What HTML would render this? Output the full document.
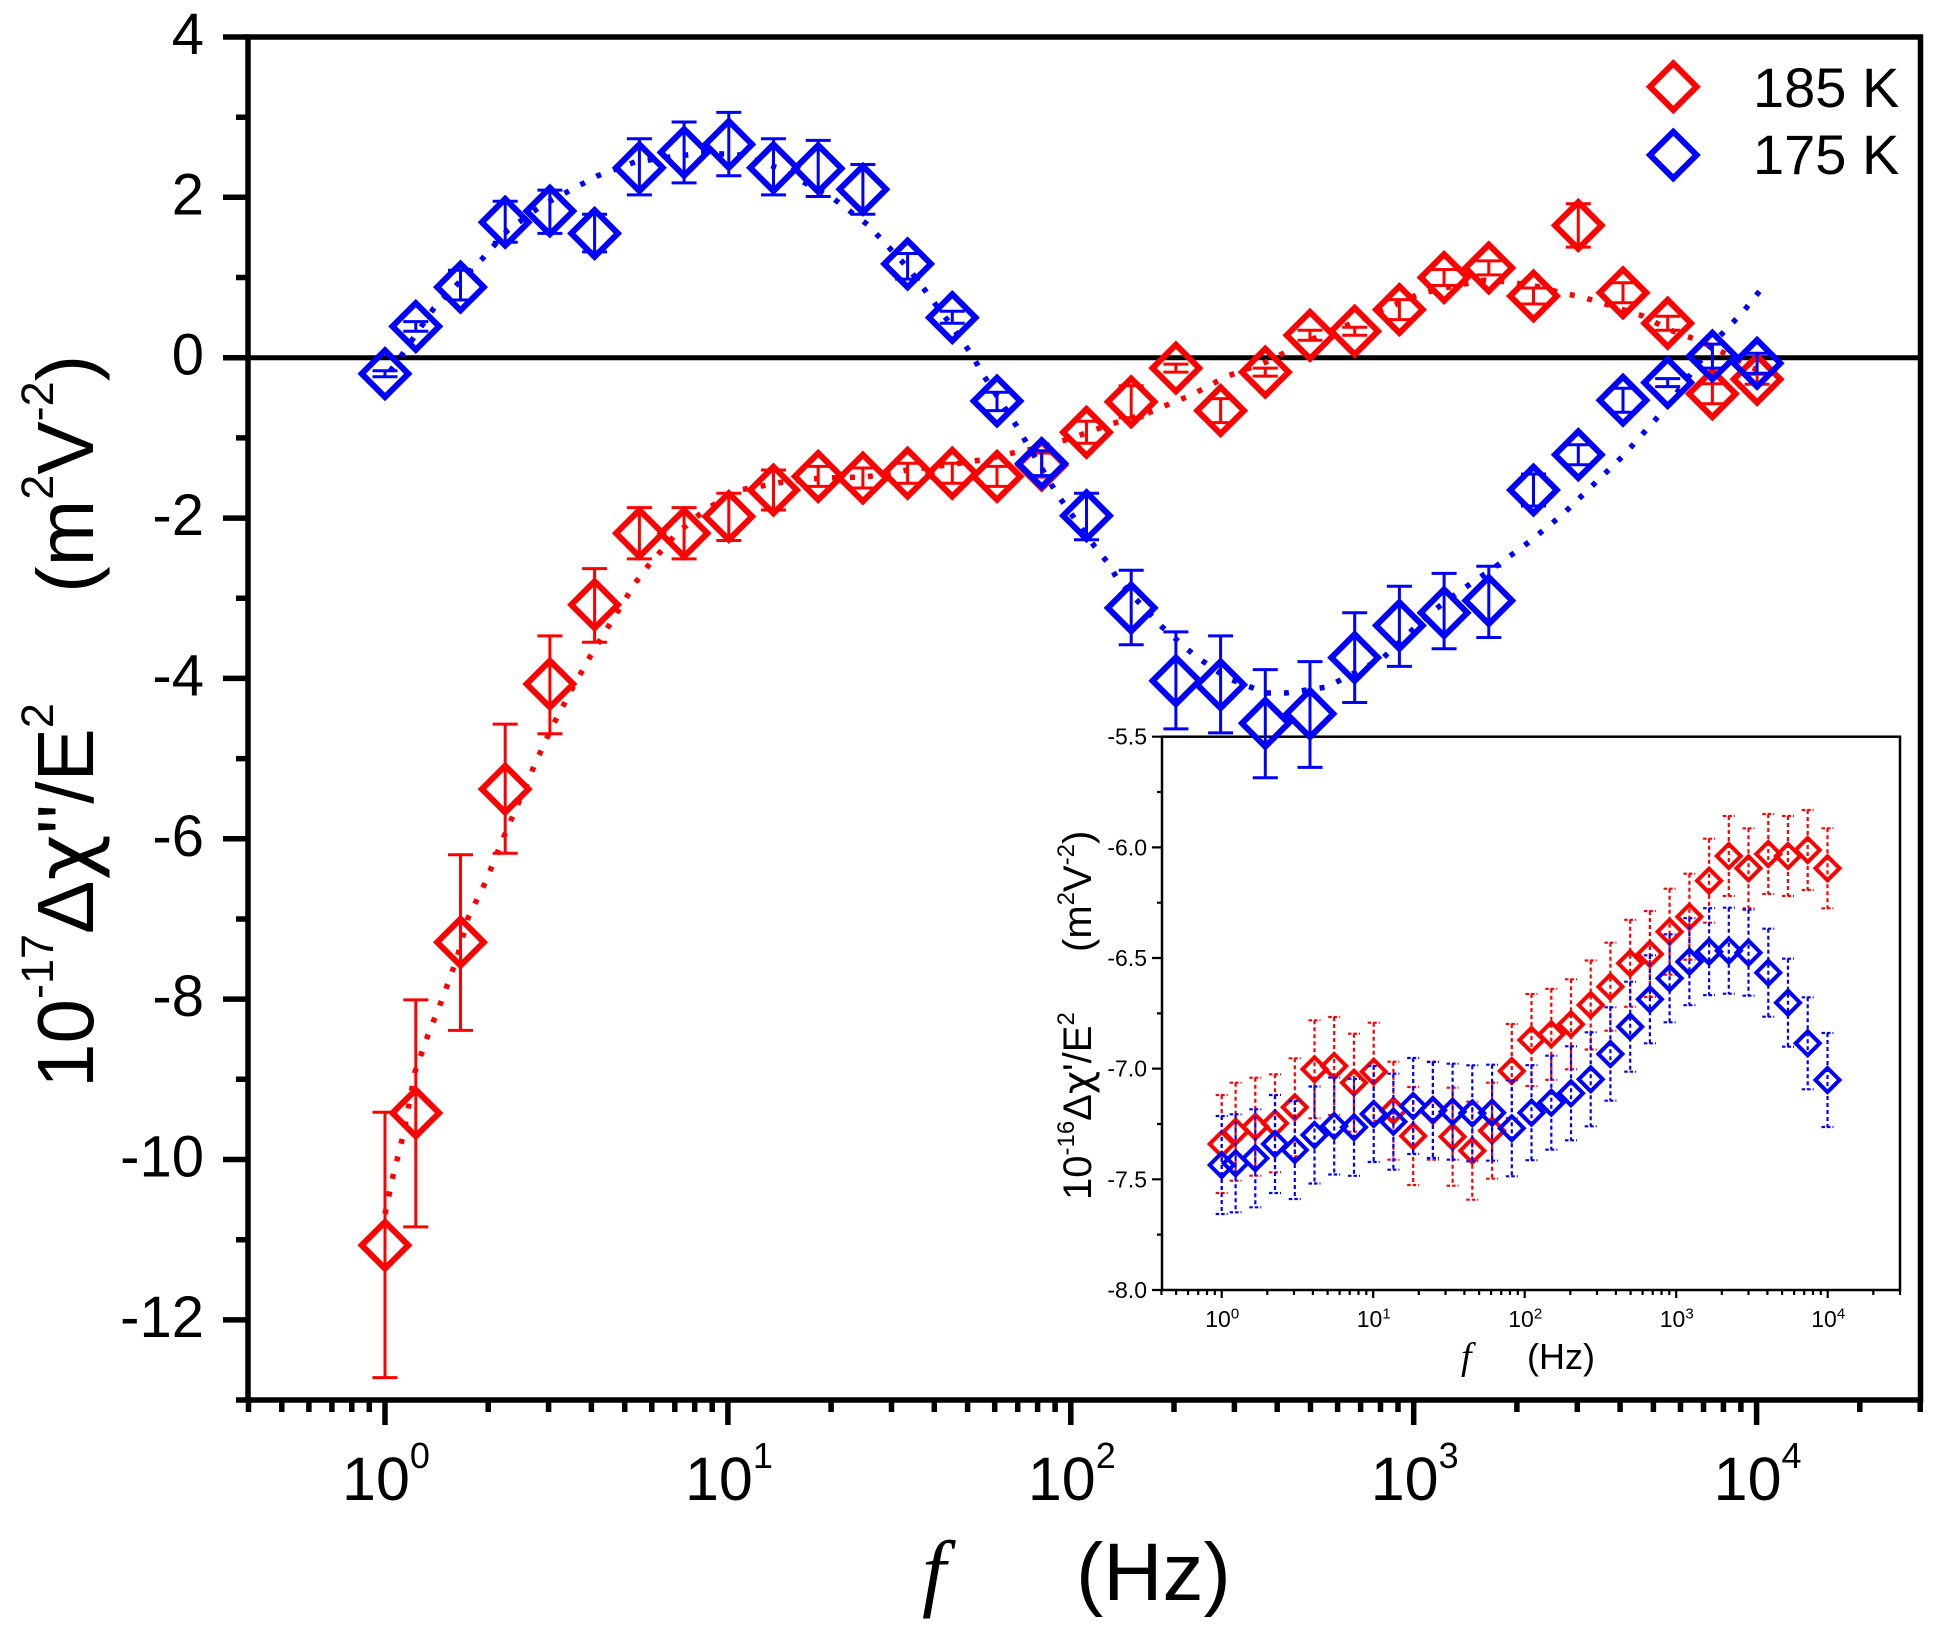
<!DOCTYPE html>
<html>
<head>
<meta charset="utf-8">
<style>
html,body{margin:0;padding:0;background:#fff;}
svg{display:block;}
text{font-family:"Liberation Sans",Arial,sans-serif;fill:#000;}
</style>
</head>
<body>
<svg width="1943" height="1638" viewBox="0 0 1943 1638" xmlns="http://www.w3.org/2000/svg">
<defs>
<path id="D" d="M0,-23.3L23.3,0L0,23.3L-23.3,0Z"/>
<path id="d" d="M0,-12L12,0L0,12L-12,0Z"/>
</defs>
<rect x="0" y="0" width="1943" height="1638" fill="#fff"/>

<!-- ============ INSET ============ -->
<rect x="1162" y="736.7" width="738" height="553.3" fill="none" stroke="#000" stroke-width="2.5"/>
<path stroke="#000" stroke-width="2.2" fill="none" d="M1152,736.7H1162M1152,847.4H1162M1152,958H1162M1152,1068.6H1162M1152,1179.3H1162M1152,1290H1162M1157,792H1162M1157,902.7H1162M1157,1013.4H1162M1157,1124H1162M1157,1234.6H1162"/>
<path stroke="#000" stroke-width="2.2" fill="none" d="M1221.7,1290v8M1373.2,1290v8M1524.7,1290v8M1676.2,1290v8M1827.7,1290v8M1161.4,1290v5M1176.1,1290v5M1188.1,1290v5M1198.2,1290v5M1207,1290v5M1214.8,1290v5M1267.3,1290v5M1294,1290v5M1312.9,1290v5M1327.6,1290v5M1339.6,1290v5M1349.7,1290v5M1358.5,1290v5M1366.3,1290v5M1418.8,1290v5M1445.5,1290v5M1464.4,1290v5M1479.1,1290v5M1491.1,1290v5M1501.2,1290v5M1510,1290v5M1517.8,1290v5M1570.3,1290v5M1597,1290v5M1615.9,1290v5M1630.6,1290v5M1642.6,1290v5M1652.7,1290v5M1661.5,1290v5M1669.3,1290v5M1721.8,1290v5M1748.5,1290v5M1767.4,1290v5M1782.1,1290v5M1794.1,1290v5M1804.2,1290v5M1813,1290v5M1820.8,1290v5M1873.3,1290v5M1900,1290v5"/>
<g font-size="23" text-anchor="end">
<text x="1147" y="744.7">-5.5</text>
<text x="1147" y="855.4">-6.0</text>
<text x="1147" y="966">-6.5</text>
<text x="1147" y="1076.6">-7.0</text>
<text x="1147" y="1187.3">-7.5</text>
<text x="1147" y="1298">-8.0</text>
</g>
<g font-size="23" text-anchor="middle">
<text x="1222.2" y="1327">10<tspan font-size="15" dy="-8.5">0</tspan></text>
<text x="1373.7" y="1327">10<tspan font-size="15" dy="-8.5">1</tspan></text>
<text x="1525.2" y="1327">10<tspan font-size="15" dy="-8.5">2</tspan></text>
<text x="1676.7" y="1327">10<tspan font-size="15" dy="-8.5">3</tspan></text>
<text x="1828.2" y="1327">10<tspan font-size="15" dy="-8.5">4</tspan></text>
</g>
<text x="1461" y="1369" style="font-family:'Liberation Serif',serif;font-style:italic;font-size:38px">f</text>
<text x="1527" y="1369" font-size="36">(Hz)</text>
<text transform="translate(1091,1200) rotate(-90)" font-size="40">10<tspan font-size="24" dy="-17">-16</tspan><tspan dy="17">Δ</tspan><tspan style="font-family:'DejaVu Sans',sans-serif">χ</tspan><tspan>'/E</tspan><tspan font-size="24" dy="-17">2</tspan></text>
<text transform="translate(1091,952) rotate(-90)" font-size="40">(m<tspan font-size="24" dy="-17">2</tspan><tspan dy="17">V</tspan><tspan font-size="24" dy="-17">-2</tspan><tspan dy="17">)</tspan></text>

<g fill="none" stroke="#f00" stroke-width="2.2">
<path stroke-dasharray="4 3" d="M1221.7,1095V1193M1235.6,1082.7V1180.7M1255.3,1077.7V1175.7M1275,1074.3V1172.3M1294.8,1058.3V1156.3M1314.5,1020.3V1118.3M1334.2,1017V1115M1354,1033.7V1131.7M1373.7,1022.7V1120.7M1393.4,1061.7V1159.7M1413.2,1087V1185M1432.9,1061.7V1159.7M1452.6,1087.7V1185.7M1472.3,1101.7V1199.7M1492.1,1082.7V1178.7M1511.8,1024V1118M1531.5,994V1086M1551.3,988.8V1079.8M1571,979.3V1069.3M1590.7,960.5V1049.5M1610.4,942.7V1030.7M1630.2,919.8V1006.8M1649.9,911V997M1669.6,888.7V974.7M1689.4,873.7V959.7M1709.1,838.7V922.7M1728.8,816V896M1748.5,828.3V908.3M1768.3,814V894M1788,816V896M1807.7,810V890M1827.5,828.3V908.3"/>
<path stroke-dasharray="3.5 2" d="M1215.7,1095h12M1215.7,1193h12M1229.6,1082.7h12M1229.6,1180.7h12M1249.3,1077.7h12M1249.3,1175.7h12M1269,1074.3h12M1269,1172.3h12M1288.8,1058.3h12M1288.8,1156.3h12M1308.5,1020.3h12M1308.5,1118.3h12M1328.2,1017h12M1328.2,1115h12M1348,1033.7h12M1348,1131.7h12M1367.7,1022.7h12M1367.7,1120.7h12M1387.4,1061.7h12M1387.4,1159.7h12M1407.2,1087h12M1407.2,1185h12M1426.9,1061.7h12M1426.9,1159.7h12M1446.6,1087.7h12M1446.6,1185.7h12M1466.3,1101.7h12M1466.3,1199.7h12M1486.1,1082.7h12M1486.1,1178.7h12M1505.8,1024h12M1505.8,1118h12M1525.5,994h12M1525.5,1086h12M1545.3,988.8h12M1545.3,1079.8h12M1565,979.3h12M1565,1069.3h12M1584.7,960.5h12M1584.7,1049.5h12M1604.4,942.7h12M1604.4,1030.7h12M1624.2,919.8h12M1624.2,1006.8h12M1643.9,911h12M1643.9,997h12M1663.6,888.7h12M1663.6,974.7h12M1683.4,873.7h12M1683.4,959.7h12M1703.1,838.7h12M1703.1,922.7h12M1722.8,816h12M1722.8,896h12M1742.5,828.3h12M1742.5,908.3h12M1762.3,814h12M1762.3,894h12M1782,816h12M1782,896h12M1801.7,810h12M1801.7,890h12M1821.5,828.3h12M1821.5,908.3h12"/>
</g>
<g fill="none" stroke="#f00" stroke-width="4">
<use href="#d" x="1221.7" y="1144"/><use href="#d" x="1235.6" y="1131.7"/><use href="#d" x="1255.3" y="1126.7"/><use href="#d" x="1275" y="1123.3"/><use href="#d" x="1294.8" y="1107.3"/><use href="#d" x="1314.5" y="1069.3"/><use href="#d" x="1334.2" y="1066"/><use href="#d" x="1354" y="1082.7"/><use href="#d" x="1373.7" y="1071.7"/><use href="#d" x="1393.4" y="1110.7"/><use href="#d" x="1413.2" y="1136"/><use href="#d" x="1432.9" y="1110.7"/><use href="#d" x="1452.6" y="1136.7"/><use href="#d" x="1472.3" y="1150.7"/><use href="#d" x="1492.1" y="1130.7"/><use href="#d" x="1511.8" y="1071"/><use href="#d" x="1531.5" y="1040"/><use href="#d" x="1551.3" y="1034.3"/><use href="#d" x="1571" y="1024.3"/><use href="#d" x="1590.7" y="1005"/><use href="#d" x="1610.4" y="986.7"/><use href="#d" x="1630.2" y="963.3"/><use href="#d" x="1649.9" y="954"/><use href="#d" x="1669.6" y="931.7"/><use href="#d" x="1689.4" y="916.7"/><use href="#d" x="1709.1" y="880.7"/><use href="#d" x="1728.8" y="856"/><use href="#d" x="1748.5" y="868.3"/><use href="#d" x="1768.3" y="854"/><use href="#d" x="1788" y="856"/><use href="#d" x="1807.7" y="850"/><use href="#d" x="1827.5" y="868.3"/>
</g>
<g fill="none" stroke="#00f" stroke-width="2.2">
<path stroke-dasharray="4 3" d="M1221.7,1116V1214M1235.6,1114.3V1212.3M1255.3,1109.3V1207.3M1275,1095V1193M1294.8,1101V1199M1314.5,1086.5V1183.5M1334.2,1077.5V1174.5M1354,1078.8V1175.8M1373.7,1066V1162M1393.4,1073.7V1169.7M1413.2,1058V1154M1432.9,1062V1158M1452.6,1063.7V1159.7M1472.3,1065.3V1161.3M1492.1,1064.7V1160.7M1511.8,1080.3V1176.3M1531.5,1065.2V1160.2M1551.3,1055.7V1149.7M1571,1046.3V1140.3M1590.7,1032.3V1126.3M1610.4,1007.3V1100.7M1630.2,981.7V1071.7M1649.9,955.3V1043.3M1669.6,934.3V1022.3M1689.4,918.2V1005.2M1709.1,908.2V995.2M1728.8,907.7V993.7M1748.5,909.7V995.7M1768.3,928.7V1016.7M1788,958.7V1046.7M1807.7,997.3V1089.3M1827.5,1033V1127"/>
<path stroke-dasharray="3.5 2" d="M1215.7,1116h12M1215.7,1214h12M1229.6,1114.3h12M1229.6,1212.3h12M1249.3,1109.3h12M1249.3,1207.3h12M1269,1095h12M1269,1193h12M1288.8,1101h12M1288.8,1199h12M1308.5,1086.5h12M1308.5,1183.5h12M1328.2,1077.5h12M1328.2,1174.5h12M1348,1078.8h12M1348,1175.8h12M1367.7,1066h12M1367.7,1162h12M1387.4,1073.7h12M1387.4,1169.7h12M1407.2,1058h12M1407.2,1154h12M1426.9,1062h12M1426.9,1158h12M1446.6,1063.7h12M1446.6,1159.7h12M1466.3,1065.3h12M1466.3,1161.3h12M1486.1,1064.7h12M1486.1,1160.7h12M1505.8,1080.3h12M1505.8,1176.3h12M1525.5,1065.2h12M1525.5,1160.2h12M1545.3,1055.7h12M1545.3,1149.7h12M1565,1046.3h12M1565,1140.3h12M1584.7,1032.3h12M1584.7,1126.3h12M1604.4,1007.3h12M1604.4,1100.7h12M1624.2,981.7h12M1624.2,1071.7h12M1643.9,955.3h12M1643.9,1043.3h12M1663.6,934.3h12M1663.6,1022.3h12M1683.4,918.2h12M1683.4,1005.2h12M1703.1,908.2h12M1703.1,995.2h12M1722.8,907.7h12M1722.8,993.7h12M1742.5,909.7h12M1742.5,995.7h12M1762.3,928.7h12M1762.3,1016.7h12M1782,958.7h12M1782,1046.7h12M1801.7,997.3h12M1801.7,1089.3h12M1821.5,1033h12M1821.5,1127h12"/>
</g>
<g fill="none" stroke="#00f" stroke-width="4">
<use href="#d" x="1221.7" y="1165"/><use href="#d" x="1235.6" y="1163.3"/><use href="#d" x="1255.3" y="1158.3"/><use href="#d" x="1275" y="1144"/><use href="#d" x="1294.8" y="1150"/><use href="#d" x="1314.5" y="1135"/><use href="#d" x="1334.2" y="1126"/><use href="#d" x="1354" y="1127.3"/><use href="#d" x="1373.7" y="1114"/><use href="#d" x="1393.4" y="1121.7"/><use href="#d" x="1413.2" y="1106"/><use href="#d" x="1432.9" y="1110"/><use href="#d" x="1452.6" y="1111.7"/><use href="#d" x="1472.3" y="1113.3"/><use href="#d" x="1492.1" y="1112.7"/><use href="#d" x="1511.8" y="1128.3"/><use href="#d" x="1531.5" y="1112.7"/><use href="#d" x="1551.3" y="1102.7"/><use href="#d" x="1571" y="1093.3"/><use href="#d" x="1590.7" y="1079.3"/><use href="#d" x="1610.4" y="1054"/><use href="#d" x="1630.2" y="1026.7"/><use href="#d" x="1649.9" y="999.3"/><use href="#d" x="1669.6" y="978.3"/><use href="#d" x="1689.4" y="961.7"/><use href="#d" x="1709.1" y="951.7"/><use href="#d" x="1728.8" y="950.7"/><use href="#d" x="1748.5" y="952.7"/><use href="#d" x="1768.3" y="972.7"/><use href="#d" x="1788" y="1002.7"/><use href="#d" x="1807.7" y="1043.3"/><use href="#d" x="1827.5" y="1080"/>
</g>

<!-- ============ MAIN AXES ============ -->
<rect x="248" y="37" width="1672.5" height="1363" fill="none" stroke="#000" stroke-width="5.5"/>
<path stroke="#000" stroke-width="5" fill="none" d="M248,357.7H1920.5"/>
<path stroke="#000" stroke-width="5.5" fill="none" d="M223,37H248M223,197.3H248M223,357.7H248M223,518.1H248M223,678.4H248M223,838.8H248M223,999.1H248M223,1159.5H248M223,1319.9H248M236,117.2H248M236,277.5H248M236,437.9H248M236,598.2H248M236,758.6H248M236,919H248M236,1079.3H248M236,1239.7H248M236,1400H248"/>
<path stroke="#000" stroke-width="5.5" fill="none" d="M385,1400v25M727.9,1400v25M1070.8,1400v25M1413.7,1400v25M1756.6,1400v25M248.5,1400v12M281.8,1400v12M308.9,1400v12M331.9,1400v12M351.8,1400v12M369.3,1400v12M488.2,1400v12M548.6,1400v12M591.4,1400v12M624.7,1400v12M651.8,1400v12M674.8,1400v12M694.7,1400v12M712.2,1400v12M831.1,1400v12M891.5,1400v12M934.3,1400v12M967.6,1400v12M994.7,1400v12M1017.7,1400v12M1037.6,1400v12M1055.1,1400v12M1174,1400v12M1234.4,1400v12M1277.2,1400v12M1310.5,1400v12M1337.6,1400v12M1360.6,1400v12M1380.5,1400v12M1398,1400v12M1516.9,1400v12M1577.3,1400v12M1620.1,1400v12M1653.4,1400v12M1680.5,1400v12M1703.5,1400v12M1723.4,1400v12M1740.9,1400v12M1859.8,1400v12M1920.2,1400v12"/>
<g font-size="58" text-anchor="end">
<text x="204" y="54">4</text>
<text x="204" y="214.3">2</text>
<text x="204" y="374.7">0</text>
<text x="204" y="535.1">-2</text>
<text x="204" y="695.4">-4</text>
<text x="204" y="855.8">-6</text>
<text x="204" y="1016.1">-8</text>
<text x="204" y="1176.5">-10</text>
<text x="204" y="1336.9">-12</text>
</g>
<g font-size="61" text-anchor="middle">
<text x="386" y="1500">10<tspan font-size="36" dy="-32">0</tspan></text>
<text x="728.9" y="1500">10<tspan font-size="36" dy="-32">1</tspan></text>
<text x="1071.8" y="1500">10<tspan font-size="36" dy="-32">2</tspan></text>
<text x="1414.7" y="1500">10<tspan font-size="36" dy="-32">3</tspan></text>
<text x="1757.6" y="1500">10<tspan font-size="36" dy="-32">4</tspan></text>
</g>
<text x="922" y="1600" style="font-family:'Liberation Serif',serif;font-style:italic;font-size:86px">f</text>
<text x="1076" y="1600" font-size="82">(Hz)</text>
<text transform="translate(93,1088) rotate(-90)" font-size="80">10<tspan font-size="45" dy="-40">-17</tspan><tspan dy="40">Δ</tspan><tspan style="font-family:'DejaVu Sans',sans-serif">χ</tspan><tspan>''/E</tspan><tspan font-size="45" dy="-40">2</tspan></text>
<text transform="translate(93,593) rotate(-90)" font-size="80">(m<tspan font-size="45" dy="-40">2</tspan><tspan dy="40">V</tspan><tspan font-size="45" dy="-40">-2</tspan><tspan dy="40">)</tspan></text>

<g fill="none" stroke-width="6">
<use href="#D" x="1673.3" y="86.7" stroke="#f00"/>
<use href="#D" x="1673.3" y="155" stroke="#00f"/>
</g>
<g font-size="56">
<text x="1753" y="107">185 K</text>
<text x="1753" y="174">175 K</text>
</g>

<!-- ============ MAIN DATA ============ -->
<polyline fill="none" stroke="#f00" stroke-width="5.5" stroke-dasharray="5 13" points="385,1214 393,1176 403,1136 407,1115 415,1072 428,1035 443,997 457,958 468,918 486,881 502,841 518,804 535,764 552,727 572,689 591,655 613,619 636,582 648,566 676,534 706,509 740,490 783,482 822,478 866,477 907,470 948,465 987,459 1008,454 1042,447 1075,437 1108,425 1148,413 1169,404 1189,396 1207,387 1225,377 1266,362 1286,352 1310,340 1355,322 1399,303 1419,294 1449,287 1485,280 1510,282 1540,287 1562,293 1582,297 1602,303 1643,316 1670,330 1700,341 1730,356 1757,370"/>
<path fill="none" stroke="#f00" stroke-width="3" d="M385,1112.2V1377.6M372.5,1112.2h25M372.5,1377.6h25M415.8,999.9V1226.9M403.3,999.9h25M403.3,1226.9h25M460.5,854.8V1030.4M448,854.8h25M448,1030.4h25M505.2,724.1V853.2M492.7,724.1h25M492.7,853.2h25M549.9,635.9V733.7M537.4,635.9h25M537.4,733.7h25M594.6,568.6V642.3M582.1,568.6h25M582.1,642.3h25M639.4,507.6V558.9M626.9,507.6h25M626.9,558.9h25M684.1,507.6V558.9M671.6,507.6h25M671.6,558.9h25M728.8,493.2V540.5M716.3,493.2h25M716.3,540.5h25M773.5,470V510M761,470h25M761,510h25M818.2,466.4V486.4M805.7,466.4h25M805.7,486.4h25M862.9,468V488M850.4,468h25M850.4,488h25M907.6,463.2V483.2M895.1,463.2h25M895.1,483.2h25M952.3,463.2V483.2M939.8,463.2h25M939.8,483.2h25M997,466.4V486.4M984.5,466.4h25M984.5,486.4h25M1041.7,453.1V477.1M1029.2,453.1h25M1029.2,477.1h25M1086.5,421.3V443.3M1074,421.3h25M1074,443.3h25M1131.2,385.8V417.8M1118.7,385.8h25M1118.7,417.8h25M1175.9,364.1V372.1M1163.4,364.1h25M1163.4,372.1h25M1220.6,398.6V422.6M1208.1,398.6h25M1208.1,422.6h25M1265.3,368.1V376.1M1252.8,368.1h25M1252.8,376.1h25M1310,330.3V340.3M1297.5,330.3h25M1297.5,340.3h25M1354.7,327.2V335.2M1342.2,327.2h25M1342.2,335.2h25M1399.4,299.6V319.6M1386.9,299.6h25M1386.9,319.6h25M1444.1,269.5V285.5M1431.6,269.5h25M1431.6,285.5h25M1488.8,260.9V274.9M1476.3,260.9h25M1476.3,274.9h25M1533.5,288V304M1521,288h25M1521,304h25M1578.3,203.8V247.1M1565.8,203.8h25M1565.8,247.1h25M1623,282.8V302.8M1610.5,282.8h25M1610.5,302.8h25M1667.7,316.2V330.2M1655.2,316.2h25M1655.2,330.2h25M1712.4,383.8V403.8M1699.9,383.8h25M1699.9,403.8h25M1757.1,374.3V384.3M1744.6,374.3h25M1744.6,384.3h25"/>
<g fill="none" stroke="#f00" stroke-width="6">
<use href="#D" x="385" y="1245.3"/><use href="#D" x="415.8" y="1113"/><use href="#D" x="460.5" y="942.2"/><use href="#D" x="505.2" y="789.1"/><use href="#D" x="549.9" y="684"/><use href="#D" x="594.6" y="604.7"/><use href="#D" x="639.4" y="533.3"/><use href="#D" x="684.1" y="533.3"/><use href="#D" x="728.8" y="516.5"/><use href="#D" x="773.5" y="490"/><use href="#D" x="818.2" y="476.4"/><use href="#D" x="862.9" y="478"/><use href="#D" x="907.6" y="473.2"/><use href="#D" x="952.3" y="473.2"/><use href="#D" x="997" y="476.4"/><use href="#D" x="1041.7" y="465.1"/><use href="#D" x="1086.5" y="432.3"/><use href="#D" x="1131.2" y="401.8"/><use href="#D" x="1175.9" y="368.1"/><use href="#D" x="1220.6" y="410.6"/><use href="#D" x="1265.3" y="372.1"/><use href="#D" x="1310" y="335.3"/><use href="#D" x="1354.7" y="331.2"/><use href="#D" x="1399.4" y="309.6"/><use href="#D" x="1444.1" y="277.5"/><use href="#D" x="1488.8" y="267.9"/><use href="#D" x="1533.5" y="296"/><use href="#D" x="1578.3" y="225.4"/><use href="#D" x="1623" y="292.8"/><use href="#D" x="1667.7" y="323.2"/><use href="#D" x="1712.4" y="393.8"/><use href="#D" x="1757.1" y="379.3"/>
</g>

<polyline fill="none" stroke="#00f" stroke-width="5.5" stroke-dasharray="5 13" points="390,371 395,365 434,308 483,258 507,231 541,206 597,176 635,162 677,156 706,153 740,155 778,168 834,199 868,225 909,269 948,321 972,355 982,373 1016,425 1057,494 1095,547 1108,563 1118,580 1161,626 1194,655 1227,678 1266,693 1286,693 1327,687 1383,658 1429,614 1460,591 1495,567 1529,542 1562,515 1592,486 1623,456 1664,410 1715,341 1743,312 1762,288"/>
<path fill="none" stroke="#00f" stroke-width="3" d="M385,370.7V376.7M372.5,370.7h25M372.5,376.7h25M415.8,321.6V331.2M403.3,321.6h25M403.3,331.2h25M460.5,270.3V300M448,270.3h25M448,300h25M505.2,201.3V242.2M492.7,201.3h25M492.7,242.2h25M549.9,190.1V233.4M537.4,190.1h25M537.4,233.4h25M594.6,214.2V251.9M582.1,214.2h25M582.1,251.9h25M639.4,138.8V194.9M626.9,138.8h25M626.9,194.9h25M684.1,122V182.9M671.6,122h25M671.6,182.9h25M728.8,112.4V175.7M716.3,112.4h25M716.3,175.7h25M773.5,138.8V194.9M761,138.8h25M761,194.9h25M818.2,140.4V196.5M805.7,140.4h25M805.7,196.5h25M862.9,164.5V214.2M850.4,164.5h25M850.4,214.2h25M907.6,253.5V279.1M895.1,253.5h25M895.1,279.1h25M952.3,311.2V323.2M939.8,311.2h25M939.8,323.2h25M997,392.2V410.6M984.5,392.2h25M984.5,410.6h25M1041.7,450.7V475.6M1029.2,450.7h25M1029.2,475.6h25M1086.5,493.2V539.7M1074,493.2h25M1074,539.7h25M1131.2,570.2V644.7M1118.7,570.2h25M1118.7,644.7h25M1175.9,631.9V728.9M1163.4,631.9h25M1163.4,728.9h25M1220.6,635.9V732.9M1208.1,635.9h25M1208.1,732.9h25M1265.3,669.6V777.8M1252.8,669.6h25M1252.8,777.8h25M1310,661.6V767.4M1297.5,661.6h25M1297.5,767.4h25M1354.7,612.7V702.5M1342.2,612.7h25M1342.2,702.5h25M1399.4,586.2V666.4M1386.9,586.2h25M1386.9,666.4h25M1444.1,573.4V648.8M1431.6,573.4h25M1431.6,648.8h25M1488.8,566.2V637.5M1476.3,566.2h25M1476.3,637.5h25M1533.5,474V506M1521,474h25M1521,506h25M1578.3,444.7V464.7M1565.8,444.7h25M1565.8,464.7h25M1623,388.2V412.2M1610.5,388.2h25M1610.5,412.2h25M1667.7,378.6V386.6M1655.2,378.6h25M1655.2,386.6h25M1712.4,344.1V368.1M1699.9,344.1h25M1699.9,368.1h25M1757.1,353.3V373.3M1744.6,353.3h25M1744.6,373.3h25"/>
<g fill="none" stroke="#00f" stroke-width="6">
<use href="#D" x="385" y="373.7"/><use href="#D" x="415.8" y="326.4"/><use href="#D" x="460.5" y="287.1"/><use href="#D" x="505.2" y="222.2"/><use href="#D" x="549.9" y="211"/><use href="#D" x="594.6" y="233.4"/><use href="#D" x="639.4" y="167.7"/><use href="#D" x="684.1" y="152.4"/><use href="#D" x="728.8" y="144.4"/><use href="#D" x="773.5" y="167.7"/><use href="#D" x="818.2" y="168.5"/><use href="#D" x="862.9" y="189.3"/><use href="#D" x="907.6" y="263.9"/><use href="#D" x="952.3" y="317.6"/><use href="#D" x="997" y="401"/><use href="#D" x="1041.7" y="463.5"/><use href="#D" x="1086.5" y="515.7"/><use href="#D" x="1131.2" y="607.9"/><use href="#D" x="1175.9" y="680.8"/><use href="#D" x="1220.6" y="684.8"/><use href="#D" x="1265.3" y="723.3"/><use href="#D" x="1310" y="713.7"/><use href="#D" x="1354.7" y="657.6"/><use href="#D" x="1399.4" y="625.5"/><use href="#D" x="1444.1" y="612.7"/><use href="#D" x="1488.8" y="600.6"/><use href="#D" x="1533.5" y="490"/><use href="#D" x="1578.3" y="454.7"/><use href="#D" x="1623" y="400.2"/><use href="#D" x="1667.7" y="382.6"/><use href="#D" x="1712.4" y="356.1"/><use href="#D" x="1757.1" y="363.3"/>
</g>
</svg>
</body>
</html>
